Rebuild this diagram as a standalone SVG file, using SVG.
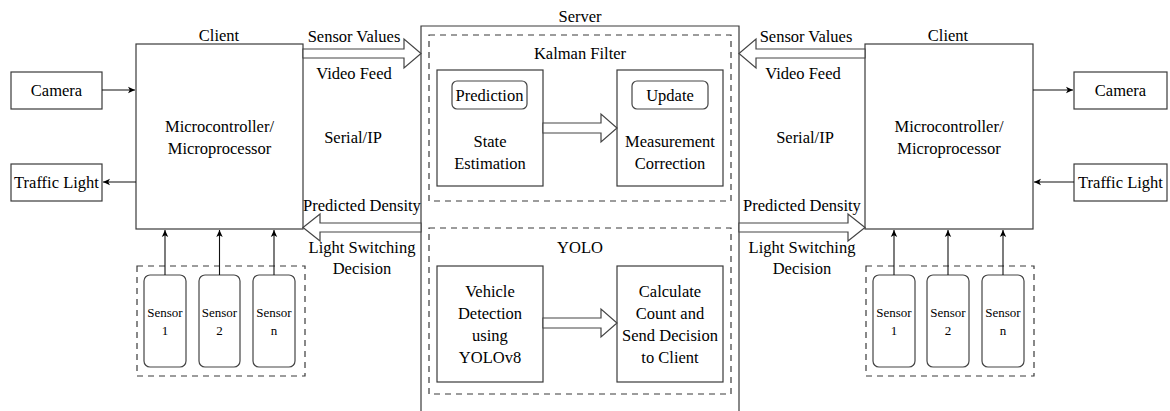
<svg xmlns="http://www.w3.org/2000/svg" width="1170" height="411" viewBox="0 0 1170 411" font-family="Liberation Serif, serif">
  <defs>
    <marker id="ah" markerWidth="8" markerHeight="8" refX="7" refY="4" orient="auto" markerUnits="userSpaceOnUse">
      <path d="M0,0.8 L7,4 L0,7.2 L1.8,4 Z" fill="#000"/>
    </marker>
    <style>
      text { font-family: "Liberation Serif", "Times New Roman", serif; font-size: 16.5px; fill: #000; text-anchor: middle; }
      .sm { font-size: 13px; }
      .box { fill: #fff; stroke: #3a3a3a; stroke-width: 1.2; }
      .rbox { fill: #fff; stroke: #444; stroke-width: 1.2; }
      .dash { fill: none; stroke: #3a3a3a; stroke-width: 1.2; stroke-dasharray: 6 5; }
      .wire { fill: none; stroke: #111; stroke-width: 1.1; marker-end: url(#ah); }
      .fat { fill: #fff; stroke: #444; stroke-width: 1.2; }
    </style>
  </defs>

  <rect width="1170" height="411" fill="#fff"/>

  <!-- Server -->
  <g id="server">
    <path d="M421,420 V26 H739 V420" class="box" fill="none"/>
    <text x="580" y="22">Server</text>
  </g>

  <g id="kalman">
    <rect x="429" y="35" width="302" height="166" class="dash"/>
    <text x="580" y="59">Kalman Filter</text>
  </g>
  <g id="state-estimation">
    <rect x="437" y="70" width="106" height="116" class="box"/>
    <rect x="452" y="81" width="75" height="28" rx="5" class="rbox"/>
    <text x="489.5" y="100.5">Prediction</text>
    <text x="490" y="146.5">State</text>
    <text x="490" y="168.5">Estimation</text>
  </g>
  <g id="measurement-correction">
    <rect x="617" y="70" width="106" height="116" class="box"/>
    <rect x="632" y="81" width="76" height="28" rx="5" class="rbox"/>
    <text x="670" y="100.5">Update</text>
    <text x="670" y="146.5">Measurement</text>
    <text x="670" y="168.5">Correction</text>
  </g>

  <g id="yolo">
    <rect x="429" y="228" width="302" height="166" class="dash"/>
    <text x="580" y="253">YOLO</text>
  </g>
  <g id="vehicle-detection">
    <rect x="437" y="266" width="106" height="116" class="box"/>
    <text x="490" y="297">Vehicle</text>
    <text x="490" y="319">Detection</text>
    <text x="490" y="341">using</text>
    <text x="490" y="362.5">YOLOv8</text>
  </g>
  <g id="calculate-count">
    <rect x="617" y="266" width="106" height="116" class="box"/>
    <text x="670" y="297">Calculate</text>
    <text x="670" y="319">Count and</text>
    <text x="670" y="341">Send Decision</text>
    <text x="670" y="362.5">to Client</text>
  </g>

  <!-- Left client -->
  <g id="client-left">
    <rect x="136" y="44" width="167" height="185" class="box"/>
    <text x="219" y="41">Client</text>
    <text x="219.5" y="132">Microcontroller/</text>
    <text x="219.5" y="154">Microprocessor</text>
  </g>
  <g id="camera-left">
    <rect x="11" y="72" width="91" height="37" class="box"/>
    <text x="56.5" y="96">Camera</text>
  </g>
  <g id="traffic-left">
    <rect x="11" y="164" width="91" height="37" class="box"/>
    <text x="56.5" y="188">Traffic Light</text>
  </g>
  <g id="sensors-left">
    <rect x="137" y="266" width="168" height="110" class="dash"/>
  </g>
  <g id="sensor-left-1">
    <rect x="144" y="275" width="42" height="92" rx="6" class="rbox"/>
    <text class="sm" x="165" y="316.5">Sensor</text>
    <text class="sm" x="165" y="334.5">1</text>
  </g>
  <g id="sensor-left-2">
    <rect x="199" y="275" width="41" height="92" rx="6" class="rbox"/>
    <text class="sm" x="219.5" y="316.5">Sensor</text>
    <text class="sm" x="219.5" y="334.5">2</text>
  </g>
  <g id="sensor-left-n">
    <rect x="253" y="275" width="42" height="92" rx="6" class="rbox"/>
    <text class="sm" x="274" y="316.5">Sensor</text>
    <text class="sm" x="274" y="334.5">n</text>
  </g>

  <!-- Right client -->
  <g id="client-right">
    <rect x="865" y="44" width="168" height="185" class="box"/>
    <text x="948" y="41">Client</text>
    <text x="949" y="132">Microcontroller/</text>
    <text x="949" y="154">Microprocessor</text>
  </g>
  <g id="camera-right">
    <rect x="1074" y="72" width="93" height="37" class="box"/>
    <text x="1120.5" y="96">Camera</text>
  </g>
  <g id="traffic-right">
    <rect x="1074" y="164" width="93" height="37" class="box"/>
    <text x="1120.5" y="188">Traffic Light</text>
  </g>
  <g id="sensors-right">
    <rect x="866" y="266" width="168" height="110" class="dash"/>
  </g>
  <g id="sensor-right-1">
    <rect x="873" y="275" width="42" height="92" rx="6" class="rbox"/>
    <text class="sm" x="894" y="316.5">Sensor</text>
    <text class="sm" x="894" y="334.5">1</text>
  </g>
  <g id="sensor-right-2">
    <rect x="927" y="275" width="42" height="92" rx="6" class="rbox"/>
    <text class="sm" x="948" y="316.5">Sensor</text>
    <text class="sm" x="948" y="334.5">2</text>
  </g>
  <g id="sensor-right-n">
    <rect x="982" y="275" width="42" height="92" rx="6" class="rbox"/>
    <text class="sm" x="1003" y="316.5">Sensor</text>
    <text class="sm" x="1003" y="334.5">n</text>
  </g>

  <!-- Connectors -->
  <g id="connectors">
    <!-- left peripherals -->
    <path d="M102,90 H135" class="wire"/>
    <path d="M136,182 H103" class="wire"/>
    <path d="M165,275 V230" class="wire"/>
    <path d="M219.5,275 V230" class="wire"/>
    <path d="M274,275 V230" class="wire"/>
    <!-- right peripherals -->
    <path d="M1033,90 H1073" class="wire"/>
    <path d="M1074,182 H1034" class="wire"/>
    <path d="M894,275 V230" class="wire"/>
    <path d="M948,275 V230" class="wire"/>
    <path d="M1003,275 V230" class="wire"/>

    <!-- hollow block arrows: client <-> server -->
    <polygon points="303,49 404,49 404,39 421,53.5 404,68 404,58 303,58" class="fat"/>
    <polygon points="421,223 320,223 320,214 303,227.5 320,241 320,232 421,232" class="fat"/>
    <polygon points="865,49 756,49 756,39 739,53.5 756,68 756,58 865,58" class="fat"/>
    <polygon points="739,223 848,223 848,214 865,227.5 848,241 848,232 739,232" class="fat"/>

    <!-- hollow block arrows inside the server -->
    <polygon points="543,123 601,123 601,114 617,128 601,142 601,133 543,133" class="fat"/>
    <polygon points="543,318 601,318 601,309 617,323 601,337 601,328 543,328" class="fat"/>

    <!-- link labels -->
    <text x="354" y="41.5">Sensor Values</text>
    <text x="354" y="78.5">Video Feed</text>
    <text x="353" y="142.5">Serial/IP</text>
    <text x="362" y="210.5">Predicted Density</text>
    <text x="362" y="252.5">Light Switching</text>
    <text x="362" y="273.5">Decision</text>

    <text x="806" y="41.5">Sensor Values</text>
    <text x="803" y="78.5">Video Feed</text>
    <text x="805" y="142.5">Serial/IP</text>
    <text x="802" y="210.5">Predicted Density</text>
    <text x="802" y="252.5">Light Switching</text>
    <text x="802" y="273.5">Decision</text>
  </g>
</svg>
